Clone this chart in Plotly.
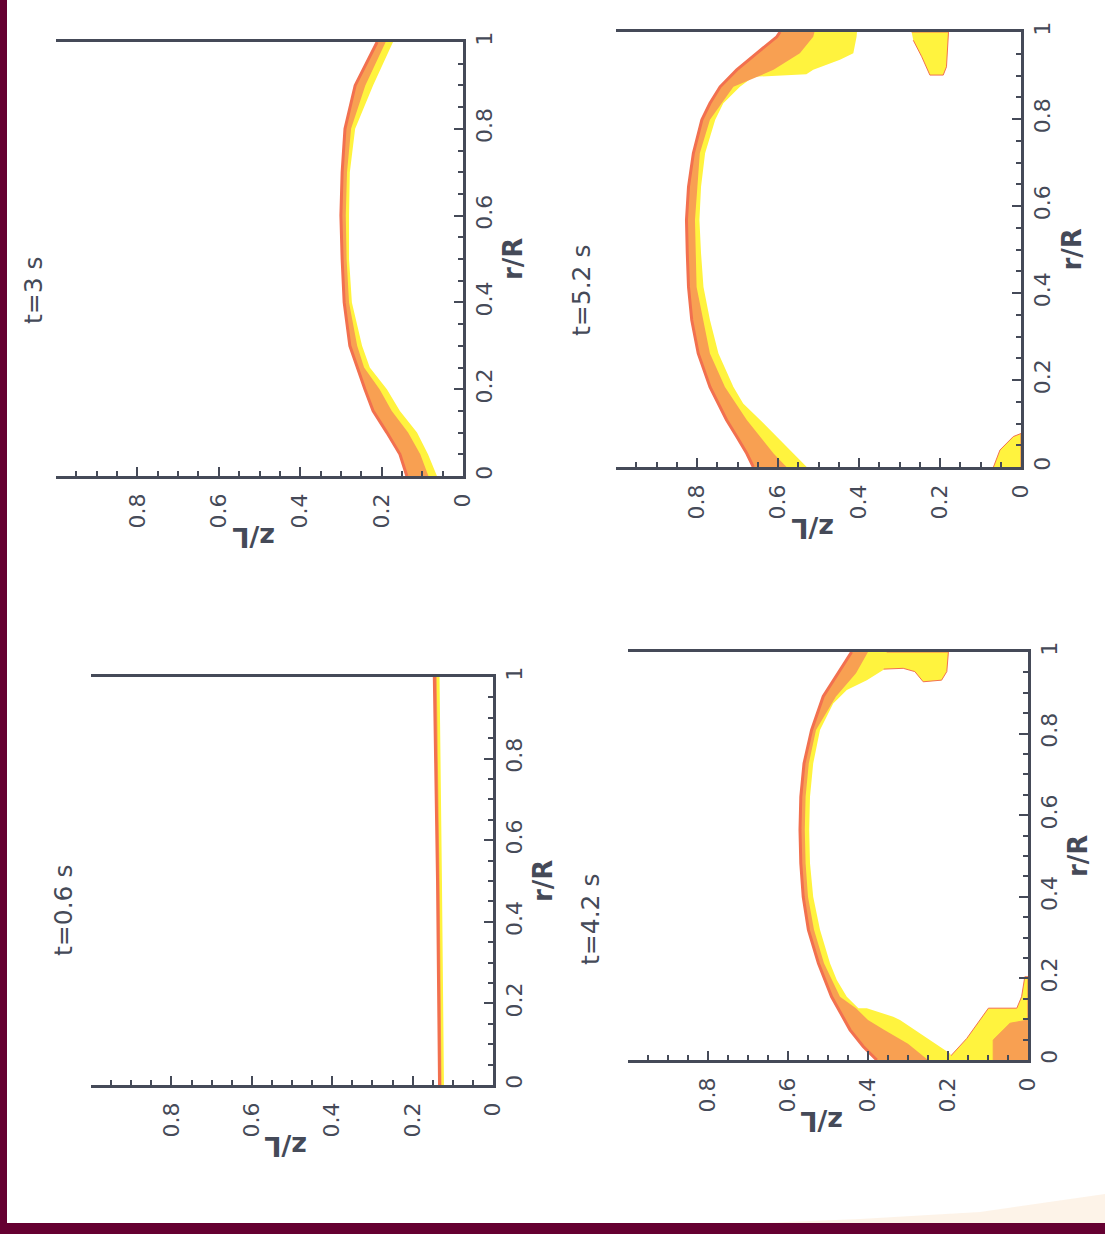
import plotly.graph_objects as go

W, H = 1105, 1234

# ---------------- data (r/R, z/L) ----------------
# t = 0.6 s
r_06 = [0.0, 0.5, 1.0]
zout_06 = [0.133, 0.138, 0.146]
zmid_06 = [0.128, 0.133, 0.140]
zin_06 = [0.122, 0.127, 0.133]

# t = 3 s
r_3 = [0.0, 0.05, 0.1, 0.15, 0.2, 0.25, 0.3, 0.4, 0.5, 0.6, 0.7, 0.8, 0.9, 1.0]
zout_3 = [0.138, 0.155, 0.187, 0.221, 0.241, 0.26, 0.278, 0.292, 0.297, 0.30, 0.297, 0.29, 0.265, 0.211]
zmid_3 = [0.085, 0.105, 0.135, 0.175, 0.205, 0.243, 0.26, 0.28, 0.286, 0.288, 0.285, 0.275, 0.24, 0.19]
zin_3 = [0.064, 0.086, 0.113, 0.155, 0.187, 0.229, 0.248, 0.273, 0.28, 0.28, 0.278, 0.265, 0.221, 0.172]

# t = 4.2 s
r_out_42 = [0, 0.033, 0.074, 0.155, 0.237, 0.319, 0.40, 0.482, 0.564, 0.645, 0.727, 0.809, 0.891, 0.948, 1.0]
zout_42 = [0.378, 0.412, 0.445, 0.491, 0.524, 0.549, 0.562, 0.568, 0.57, 0.568, 0.56, 0.541, 0.512, 0.474, 0.441]
r_mid_42 = [0, 0.04, 0.074, 0.098, 0.127, 0.155, 0.237, 0.319, 0.40, 0.482, 0.564, 0.645, 0.727, 0.809, 0.891, 0.948, 1.0]
zmid_42 = [0.25, 0.30, 0.36, 0.40, 0.43, 0.47, 0.51, 0.535, 0.55, 0.556, 0.558, 0.556, 0.548, 0.53, 0.48, 0.43, 0.40]
r_in_42 = [0, 0.016, 0.098, 0.106, 0.127, 0.127, 0.155, 0.196, 0.237, 0.319, 0.40, 0.482, 0.564, 0.645,
           0.727, 0.809, 0.842, 0.874, 0.907, 0.931, 0.956, 1.0]
zin_42 = [0.187, 0.195, 0.32, 0.337, 0.403, 0.424, 0.453, 0.478, 0.495, 0.52, 0.537, 0.545, 0.547, 0.545,
          0.537, 0.52, 0.503, 0.487, 0.453, 0.403, 0.362, 0.353]
blob_top_42_r = [1.0, 1.0, 0.952, 0.931, 0.927, 0.952, 0.960, 0.958]
blob_top_42_z = [0.362, 0.199, 0.203, 0.216, 0.262, 0.283, 0.312, 0.362]
blob_bot_42_r = [0.0, 0.008, 0.053, 0.098, 0.127, 0.127, 0.155, 0.204, 0.204, 0.0]
blob_bot_42_z = [0.195, 0.195, 0.153, 0.12, 0.099, 0.028, 0.016, 0.008, 0.0, 0.0]
blob_bot2_42_r = [0.0, 0.049, 0.09, 0.098, 0.0]
blob_bot2_42_z = [0.087, 0.087, 0.045, 0.0, 0.0]

# t = 5.2 s
r_out_52 = [0, 0.031, 0.07, 0.108, 0.184, 0.261, 0.338, 0.414, 0.491, 0.568, 0.644, 0.721, 0.798, 0.836,
            0.874, 0.913, 0.951, 0.989, 1.0]
zout_52 = [0.661, 0.677, 0.702, 0.727, 0.768, 0.797, 0.813, 0.821, 0.824, 0.826, 0.821, 0.809, 0.788, 0.768,
           0.743, 0.702, 0.653, 0.603, 0.595]
r_mid_52 = [0, 0.031, 0.108, 0.184, 0.261, 0.414, 0.568, 0.721, 0.798, 0.874, 0.913, 0.951, 0.989, 1.0]
zmid_52 = [0.579, 0.611, 0.677, 0.731, 0.768, 0.801, 0.805, 0.793, 0.768, 0.71, 0.611, 0.546, 0.513, 0.51]
r_in_52 = [0, 0.031, 0.07, 0.108, 0.146, 0.184, 0.261, 0.338, 0.414, 0.491, 0.568, 0.644, 0.721, 0.798,
           0.836, 0.874, 0.897, 0.903, 0.913, 0.936, 0.951, 0.989, 1.0]
zin_52 = [0.529, 0.562, 0.603, 0.644, 0.686, 0.71, 0.747, 0.768, 0.784, 0.79, 0.794, 0.79, 0.78, 0.755,
          0.735, 0.694, 0.661, 0.53, 0.513, 0.447, 0.414, 0.406, 0.405]
blob_top_52_r = [1.0, 1.0, 0.92, 0.901, 0.901, 0.943, 0.981]
blob_top_52_z = [0.27, 0.179, 0.184, 0.192, 0.225, 0.245, 0.266]
blob_bot_52_r = [0.0, 0.039, 0.07, 0.077, 0.0]
blob_bot_52_z = [0.068, 0.052, 0.019, 0.0, 0.0]

titles = ["t=0.6 s", "t=3 s", "t=4.2 s", "t=5.2 s"]
z_tickvals = [0, 0.2, 0.4, 0.6, 0.8]
z_ticktext = ["0", "0.2", "0.4", "0.6", "0.8"]
r_tickvals = [0, 0.2, 0.4, 0.6, 0.8, 1.0]
r_ticktext = ["0", "0.2", "0.4", "0.6", "0.8", "1"]

# ---------------- styling / layout ----------------
YEL = "#fff33e"
ORA = "#f8a052"
RED = "#f2704f"
AX = "#454a58"
MAROON = "#650031"
FONT = "DejaVu Sans"

# panel geometry in pixels: left (z=1), right (z=0), top (r=1), bottom (r=0)
geo = [
    (91, 493, 677, 1085),
    (56, 463, 42, 476),
    (628, 1028, 652, 1060),
    (616, 1021, 32, 467),
]
title_pos = [(63, 911), (33, 290), (590, 920), (581, 291)]

bands = [
    (r_06, zout_06, r_06, zmid_06, r_06, zin_06, []),
    (r_3, zout_3, r_3, zmid_3, r_3, zin_3, []),
    (r_out_42, zout_42, r_mid_42, zmid_42, r_in_42, zin_42,
     [(blob_top_42_r, blob_top_42_z, YEL), (blob_bot_42_r, blob_bot_42_z, YEL),
      (blob_bot2_42_r, blob_bot2_42_z, ORA)]),
    (r_out_52, zout_52, r_mid_52, zmid_52, r_in_52, zin_52,
     [(blob_top_52_r, blob_top_52_z, YEL), (blob_bot_52_r, blob_bot_52_z, YEL)]),
]

fig = go.Figure()
layout = {}
annotations = []

for i, ((xl, xr, yt, yb), band, ttl, tp) in enumerate(zip(geo, bands, titles, title_pos)):
    n = "" if i == 0 else str(i + 1)
    xa, ya = "x" + n, "y" + n
    ro, zo, rm, zm, ri, zi, blobs = band
    for br, bz, col in blobs:
        fig.add_trace(go.Scatter(x=bz, y=br, xaxis=xa, yaxis=ya, fill="toself", fillcolor=col,
                                 mode="lines", line=dict(color=RED if col == YEL else ORA, width=1),
                                 hoverinfo="skip", showlegend=False))
    fig.add_trace(go.Scatter(x=zo + zi[::-1], y=ro + ri[::-1], xaxis=xa, yaxis=ya, fill="toself",
                             fillcolor=YEL, mode="lines", line=dict(width=0), hoverinfo="skip",
                             showlegend=False))
    fig.add_trace(go.Scatter(x=zo + zm[::-1], y=ro + rm[::-1], xaxis=xa, yaxis=ya, fill="toself",
                             fillcolor=ORA, mode="lines", line=dict(width=0), hoverinfo="skip",
                             showlegend=False))
    fig.add_trace(go.Scatter(x=zo, y=ro, xaxis=xa, yaxis=ya, mode="lines",
                             line=dict(color=RED, width=3), hoverinfo="skip", showlegend=False))

    layout["xaxis" + n] = dict(
        domain=[xl / W, xr / W], anchor=ya, range=[1.0, 0.0], showgrid=False, zeroline=False,
        showline=True, linecolor=AX, linewidth=2.5, mirror=True,
        tickmode="array", tickvals=z_tickvals, ticktext=z_ticktext, ticks="inside",
        ticklen=9, tickwidth=2, tickcolor=AX, tickangle=-90, ticklabelstandoff=6,
        tickfont=dict(family=FONT, size=22, color=AX),
        minor=dict(ticks="inside", ticklen=5, tickwidth=1.5, tickcolor=AX, dtick=0.05, tick0=0,
                   showgrid=False),
    )
    layout["yaxis" + n] = dict(
        domain=[1 - yb / H, 1 - yt / H], anchor=xa, side="right", range=[0.0, 1.0], showgrid=False,
        zeroline=False, showline=True, linecolor=AX, linewidth=2.5, mirror=False,
        tickmode="array", tickvals=r_tickvals, ticktext=r_ticktext, ticks="inside",
        ticklen=9, tickwidth=2, tickcolor=AX, tickangle=-90,
        tickfont=dict(family=FONT, size=22, color=AX),
        minor=dict(ticks="inside", ticklen=5, tickwidth=1.5, tickcolor=AX, dtick=0.05, tick0=0,
                   showgrid=False),
    )
    # panel title
    annotations.append(dict(text=ttl, x=tp[0] / W, y=1 - tp[1] / H, xref="paper", yref="paper",
                            xanchor="center", yanchor="middle", showarrow=False, textangle=-90,
                            font=dict(family=FONT, size=25, color=AX)))
    # r/R axis title
    annotations.append(dict(text="<b>r/R</b>", x=(xr + 50) / W, y=1 - ((yt + yb) / 2) / H,
                            xref="paper", yref="paper", xanchor="center", yanchor="middle",
                            showarrow=False, textangle=-90,
                            font=dict(family=FONT, size=26, color=AX)))
    # z/L axis title (upside down)
    annotations.append(dict(text="<b>z/L</b>", x=((xl + xr) / 2 - 6) / W, y=1 - (yb + 62) / H,
                            xref="paper", yref="paper", xanchor="center", yanchor="middle",
                            showarrow=False, textangle=180,
                            font=dict(family=FONT, size=27, color=AX)))

stain = "M {0} {1} L {2} {1} L {2} {3} L {4} {5} L {6} {7} Z".format(
    760 / W, 11 / H, 1.0, 40 / H, 980 / W, 22 / H, 860 / W, 15 / H)

fig.update_layout(
    width=W, height=H, margin=dict(l=0, r=0, t=0, b=0, autoexpand=False),
    paper_bgcolor="white", plot_bgcolor="rgba(0,0,0,0)", showlegend=False,
    annotations=annotations,
    shapes=[
        dict(type="path", path=stain, xref="paper", yref="paper", fillcolor="#fcebd8",
             line=dict(width=0), opacity=0.6, layer="below"),
        dict(type="rect", xref="paper", yref="paper", x0=0, x1=7 / W, y0=0, y1=1,
             fillcolor=MAROON, line=dict(width=0)),
        dict(type="rect", xref="paper", yref="paper", x0=0, x1=1, y0=0, y1=11 / H,
             fillcolor=MAROON, line=dict(width=0)),
    ],
    **layout,
)

fig.write_html("out.html")
